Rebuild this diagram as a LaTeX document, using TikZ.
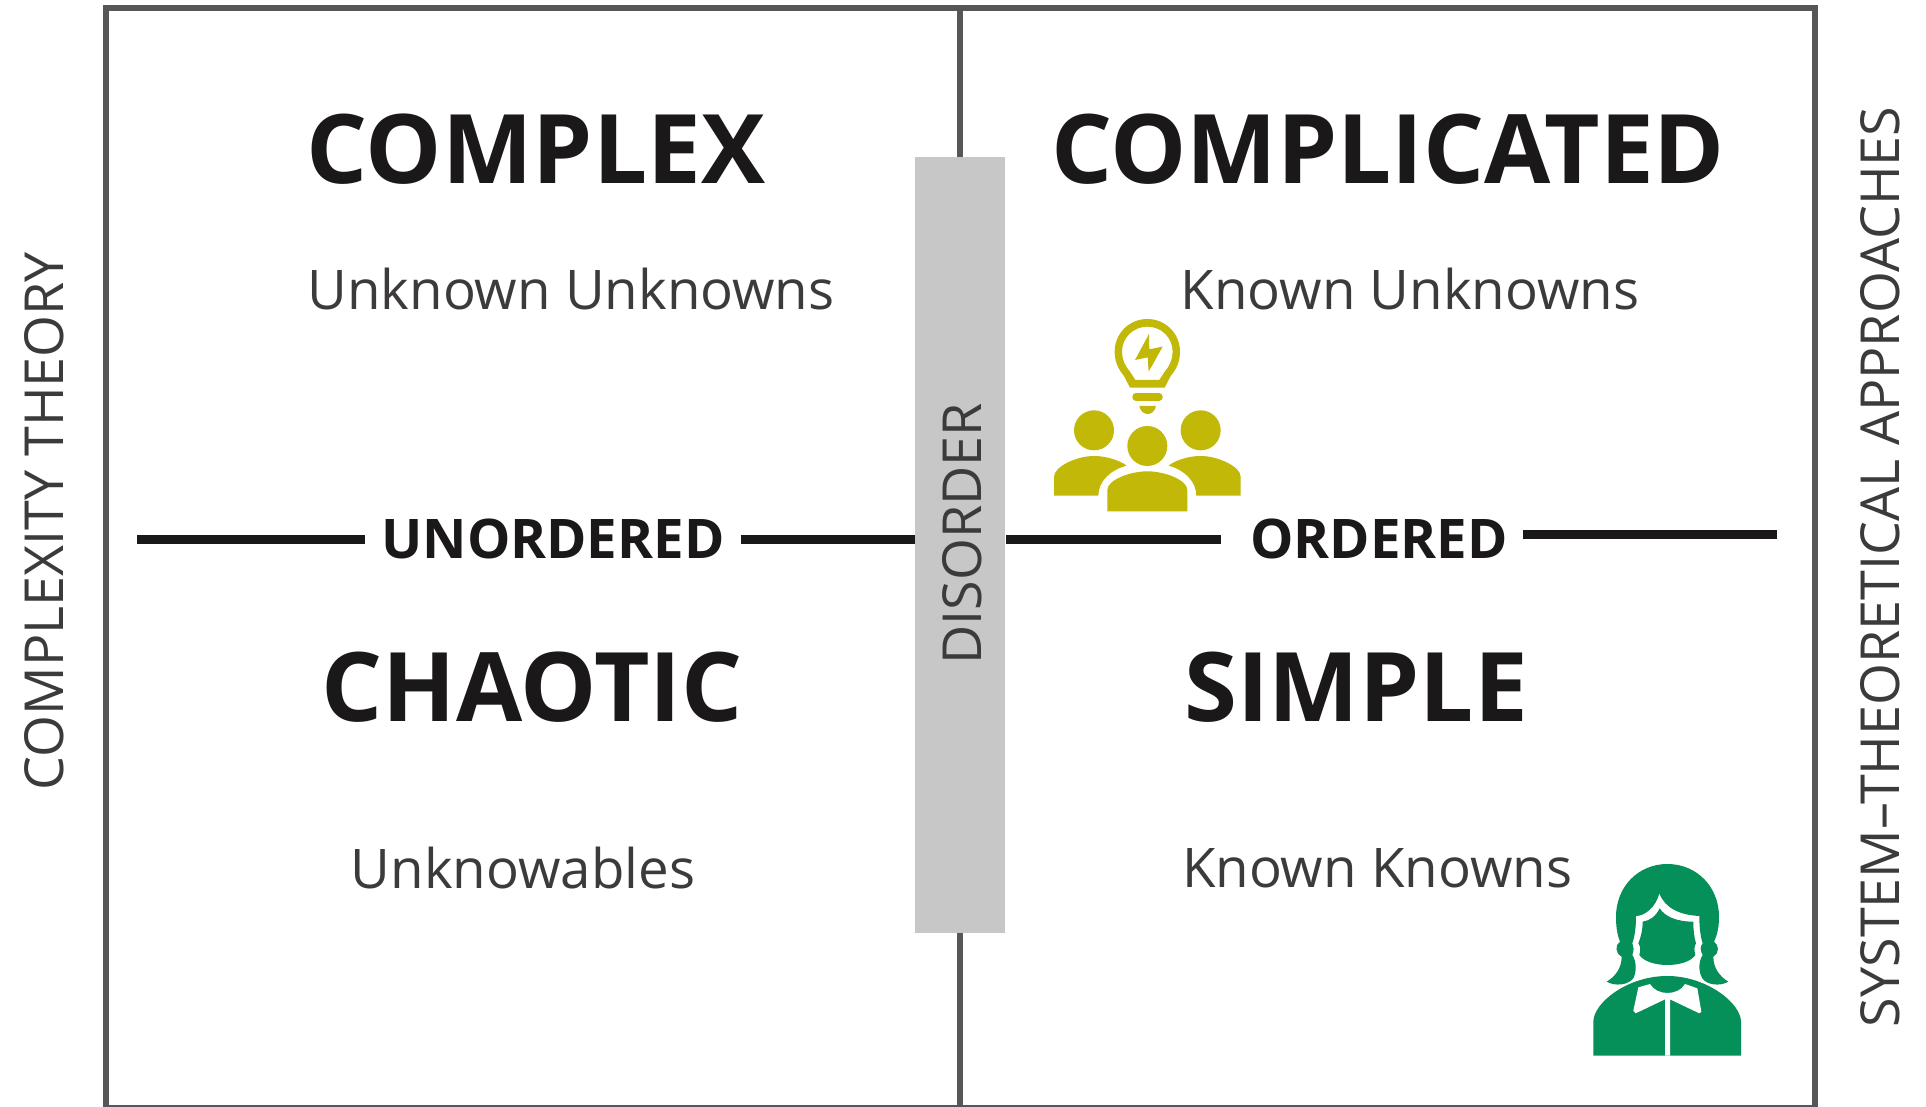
\documentclass[tikz,border=0pt]{standalone}
\usepackage{fontspec}
\setmainfont{Open Sans}
\definecolor{ink}{HTML}{1B1819}
\definecolor{subink}{HTML}{3C3A3B}
\definecolor{framec}{HTML}{565658}
\definecolor{barc}{HTML}{C8C7C8}
\definecolor{olive}{HTML}{C1B808}
\definecolor{leaf}{HTML}{049058}
\tikzset{
  title/.style={inner sep=0pt,text=ink,font=\fontsize{96}{96}\selectfont\bfseries},
  subtitle/.style={inner sep=0pt,text=subink,font=\fontsize{54.6}{54.6}\selectfont},
  axis/.style={inner sep=0pt,text=ink,font=\fontsize{54.6}{54.6}\selectfont\bfseries},
  side/.style={inner sep=0pt,text=subink,rotate=90,font=\fontsize{53.8}{53.8}\selectfont},
  frameline/.style={draw=framec,line width=5.5pt},
  axisline/.style={draw=ink,line width=9pt},
  barbox/.style={fill=barc,draw=none,inner sep=0pt,minimum width=90pt,minimum height=776pt},
  zoomscope/.style={x=0.3333pt,y=-0.3333pt},
}
\begin{document}
\begin{tikzpicture}[x=1pt,y=-1pt]
\useasboundingbox (0,0) rectangle (1926,1107);
\fill[white] (0,0) rectangle (1926,1107);
% frame
\coordinate (ftl) at (106,8); \coordinate (fbr) at (1815,1108);
\draw[frameline] (ftl) rectangle (fbr);
\coordinate (vt) at (960,8); \coordinate (vb) at (960,1107);
\draw[frameline] (vt) -- (vb);
\node[barbox] (bar) at (960,545) {};
% axes
\coordinate (a1) at (137,539); \coordinate (a2) at (365,539);
\coordinate (a3) at (741,539); \coordinate (a4) at (915,539);
\coordinate (a5) at (1006,539); \coordinate (a6) at (1221,539);
\coordinate (a7) at (1523,534); \coordinate (a8) at (1777,534);
\draw[axisline] (a1) -- (a2);
\draw[axisline] (a3) -- (a4);
\draw[axisline] (a5) -- (a6);
\draw[axisline] (a7) -- (a8);
% text
\node[title] (complex) at (536,149) {COMPLEX};
\node[title] (complicated) at (1388,149) {COMPLICATED};
\node[title] (chaotic) at (532,687) {CHAOTIC};
\node[title] (simple) at (1356,687) {SIMPLE};
\node[subtitle] (uu) at (571,289.5) {Unknown Unknowns};
\node[subtitle] (ku) at (1410,289.5) {Known Unknowns};
\node[subtitle] (ub) at (523,868) {Unknowables};
\node[subtitle] (kk) at (1377,868) {Known Knowns};
\node[axis] (unordered) at (553,539) {UNORDERED};
\node[axis] (ordered) at (1379,539) {ORDERED};
\node[side] (disorder) at (962,534) {DISORDER};
\node[side] (ct) at (44,521) {COMPLEXITY THEORY};
\node[side] (st) at (1880,567) {SYSTEM–THEORETICAL APPROACHES};
% lightbulb team icon
\begin{scope}[shift={(1020,300)},zoomscope]
\fill[olive,even odd rule]
  (330,263) -- (312,228) .. controls (295,208) and (284,185) .. (284,155)
  .. controls (284,100) and (328,57) .. (382,57)
  .. controls (436,57) and (480,100) .. (480,155)
  .. controls (480,185) and (469,208) .. (452,228) -- (434,263) -- cycle
  (346,240) -- (330,215) .. controls (315,198) and (306,178) .. (306,155)
  .. controls (306,113) and (340,80) .. (382,80)
  .. controls (424,80) and (458,113) .. (458,155)
  .. controls (458,178) and (449,198) .. (434,215) -- (418,240) -- cycle;
\fill[olive] (387,102) -- (345,180) -- (383,172) -- (386,215) -- (428,140) -- (388,148) -- cycle;
\draw[olive,line width=7.5pt,line cap=round] (348,291) -- (417,291);
\fill[olive] (358,318) -- (408,318) .. controls (402,350) and (364,350) .. (358,318) -- cycle;
\fill[olive] (222,391) circle[radius=20pt];
\fill[olive] (542,391) circle[radius=20pt];
\fill[olive] (382,438) circle[radius=20pt];
\fill[olive] (262,634) -- (262,570) .. controls (262,540) and (330,514) .. (382,514)
  .. controls (434,514) and (502,540) .. (502,570) -- (502,634) -- cycle;
\fill[olive] (102,587) -- (102,530) .. controls (102,500) and (170,468) .. (222,468)
  .. controls (260,468) and (300,482) .. (320,497) .. controls (270,510) and (235,545) .. (235,587) -- cycle;
\fill[olive] (662,587) -- (662,530) .. controls (662,500) and (594,468) .. (542,468)
  .. controls (504,468) and (464,482) .. (446,497) .. controls (494,510) and (529,545) .. (529,587) -- cycle;
\end{scope}
% woman icon
\begin{scope}[shift={(1570,840)},zoomscope]
\fill[leaf]
  (110,425) .. controls (135,410) and (155,385) .. (155,350)
  .. controls (135,340) and (135,315) .. (150,305)
  .. controls (140,280) and (138,255) .. (138,230)
  .. controls (138,140) and (205,72) .. (292,72)
  .. controls (380,72) and (447,140) .. (447,230)
  .. controls (447,255) and (444,280) .. (432,305)
  .. controls (448,315) and (448,340) .. (430,350)
  .. controls (430,385) and (450,410) .. (475,425)
  .. controls (450,440) and (410,435) .. (397,415)
  .. controls (385,395) and (385,365) .. (398,345)
  .. controls (390,330) and (390,320) .. (398,310)
  .. controls (390,285) and (388,255) .. (388,228)
  .. controls (330,225) and (285,205) .. (268,160)
  .. controls (258,200) and (225,228) .. (198,228)
  .. controls (198,260) and (195,285) .. (187,310)
  .. controls (192,320) and (192,330) .. (187,345)
  .. controls (200,365) and (200,395) .. (190,415)
  .. controls (175,435) and (135,440) .. (110,425) -- cycle;
\fill[leaf]
  (218,245) .. controls (240,242) and (258,228) .. (269,205)
  .. controls (285,230) and (320,245) .. (370,245)
  .. controls (370,270) and (372,290) .. (378,310)
  .. controls (372,320) and (372,330) .. (376,345)
  .. controls (350,385) and (235,385) .. (208,345)
  .. controls (212,330) and (212,320) .. (205,310)
  .. controls (213,290) and (218,270) .. (218,245) -- cycle;
\fill[leaf] (70,647) -- (70,545) .. controls (70,490) and (170,408) .. (292,408)
  .. controls (410,408) and (513,490) .. (513,545) -- (513,647) -- cycle;
\fill[white] (205,442) -- (240,432) .. controls (260,468) and (325,468) .. (345,432)
  -- (382,445) -- (394,515) -- (388,520) -- (300,478) -- (300,647) -- (285,647) -- (285,478)
  -- (197,520) -- (190,512) -- cycle;
\end{scope}
\end{tikzpicture}
\end{document}
